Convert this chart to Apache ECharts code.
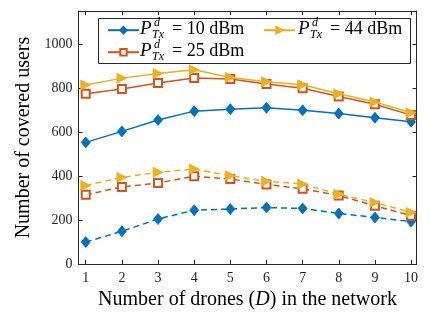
<!DOCTYPE html>
<html><head><meta charset="utf-8">
<script src="https://cdn.jsdelivr.net/npm/echarts@6/dist/echarts.min.js"></script>
<style>html,body{margin:0;padding:0;background:#fff}#c{width:430px;height:315px}</style>
</head><body><div id="c"></div>
<script>
var drones = [1,2,3,4,5,6,7,8,9,10];
var yTicks = [0,200,400,600,800,1000];
var p10Solid = [553,603,655,695,704,710,699,684,665,647];
var p25Solid = [774,796,823,846,841,818,799,762,726,677];
var p44Solid = [814,845,866,883,848,829,815,774,737,688];
var p10Dash = [100,149,205,245,250,257,253,230,212,193];
var p25Dash = [315,350,369,399,387,362,342,312,265,220];
var p44Dash = [357,394,417,432,402,376,364,317,280,235];
var seriesNames = ['10 dBm','25 dBm','44 dBm'];

var FONT = 'Liberation Serif';
var AX = '#262626';
var colors = ['#0072BD','#D95319','#EDB120'];
var symDiamond = 'path://M5,0 L10,6 L5,12 L0,6 Z';
var symTri = 'path://M0,0 L10,5 L0,10 Z';
var syms = [
  {symbol: symDiamond, symbolSize: [9,11]},
  {symbol: 'emptyRect', symbolSize: 8},
  {symbol: symTri, symbolSize: [10,10]}
];
function pairs(v){ return drones.map(function(d,i){return [d, v[i]];}); }
function mk(idx, vals, dashed){
  return {
    name: seriesNames[idx], type: 'line', data: pairs(vals),
    symbol: syms[idx].symbol, symbolSize: syms[idx].symbolSize,
    showAllSymbol: true,
    lineStyle: {color: colors[idx], width: 1.5, type: dashed ? [6,4] : 'solid'},
    itemStyle: {color: colors[idx], borderColor: colors[idx], borderWidth: idx===1 ? 1.5 : 0.8},
    emphasis: {disabled: true}, animation: false, z: 2 + idx
  };
}
var series = [
  mk(0,p10Solid,false), mk(1,p25Solid,false), mk(2,p44Solid,false),
  mk(0,p10Dash,true), mk(1,p25Dash,true), mk(2,p44Dash,true)
];

function legendAt(name, left, top){
  return {data:[name], left:left, top:top, itemWidth:31, itemHeight:8, padding:0, z:60,
    formatter:function(){return '';}, selectedMode:false, textStyle:{fontSize:1}};
}
function label(x, y, val){
  return [
    {type:'text', left:x, top:y-11, z:61, style:{text:'P', font:'italic 19px '+FONT, fill:'#000'}},
    {type:'text', left:x+14, top:y-13, z:61, style:{text:'d', font:'italic 12px '+FONT, fill:'#000'}},
    {type:'text', left:x+12, top:y-1, z:61, style:{text:'Tx', font:'italic 12px '+FONT, fill:'#000'}},
    {type:'text', left:x+32, top:y-10, z:61, style:{text:'= '+val, font:'18px '+FONT, fill:'#000'}}
  ];
}
var graphics = [
  {type:'rect', z:0, shape:{x:98.5, y:18.5, width:312, height:45}, style:{fill:'none', stroke:AX, lineWidth:1}}
].concat(label(140,30,seriesNames[0]), label(140,52,seriesNames[1]), label(298,30,seriesNames[2]));

var axisBase = {
  min: 0.8, max: 10.15, type: 'value',
  axisLine: {show:true, onZero:false, lineStyle:{color:AX, width:1}},
  splitLine: {show:false}
};
function plain(v){ return String(v); }
var option = {
  backgroundColor: '#fff',
  animation: false,
  grid: {left: 78.5, right: 13.5, top: 11, bottom: 46.5, containLabel: false},
  xAxis: [
    Object.assign({}, axisBase, {
      position: 'bottom',
      axisTick: {inside:true, length:4, customValues: drones, lineStyle:{color:AX}},
      axisLabel: {customValues: drones, formatter: plain, fontFamily: FONT, fontSize: 14, color: AX, margin: 7},
      name: 'Number of drones ({i|D}) in the network', nameLocation: 'middle', nameGap: 21,
      nameTextStyle: {fontFamily: FONT, fontSize: 20, color: '#000', rich: {i:{fontFamily:FONT, fontSize:20, fontStyle:'italic', color:'#000'}}}
    }),
    Object.assign({}, axisBase, {
      position: 'top',
      axisTick: {inside:true, length:4, customValues: drones, lineStyle:{color:AX}},
      axisLabel: {show:false}
    })
  ],
  yAxis: [
    {type:'value', min:0, max:1150, position:'left',
      axisLine:{show:true, onZero:false, lineStyle:{color:AX, width:1}},
      axisTick:{show:true, inside:true, length:4, customValues: yTicks, lineStyle:{color:AX}},
      axisLabel:{customValues: yTicks, formatter: plain, fontFamily: FONT, fontSize: 14, color: AX, margin: 6},
      splitLine:{show:false},
      name:'Number of covered users', nameLocation:'middle', nameGap:38,
      nameTextStyle:{fontFamily: FONT, fontSize: 20, color:'#000'}},
    {type:'value', min:0, max:1150, position:'right',
      axisLine:{show:true, onZero:false, lineStyle:{color:AX, width:1}},
      axisTick:{show:true, inside:true, length:4, customValues: yTicks, lineStyle:{color:AX}},
      axisLabel:{show:false}, splitLine:{show:false}}
  ],
  legend: [
    legendAt(seriesNames[0], 107, 26),
    legendAt(seriesNames[1], 107, 48),
    legendAt(seriesNames[2], 263, 26)
  ],
  graphic: graphics,
  series: series
};
var chart = echarts.init(document.getElementById('c'), null, {renderer:'canvas'});
chart.setOption(option);
</script>
</body></html>
